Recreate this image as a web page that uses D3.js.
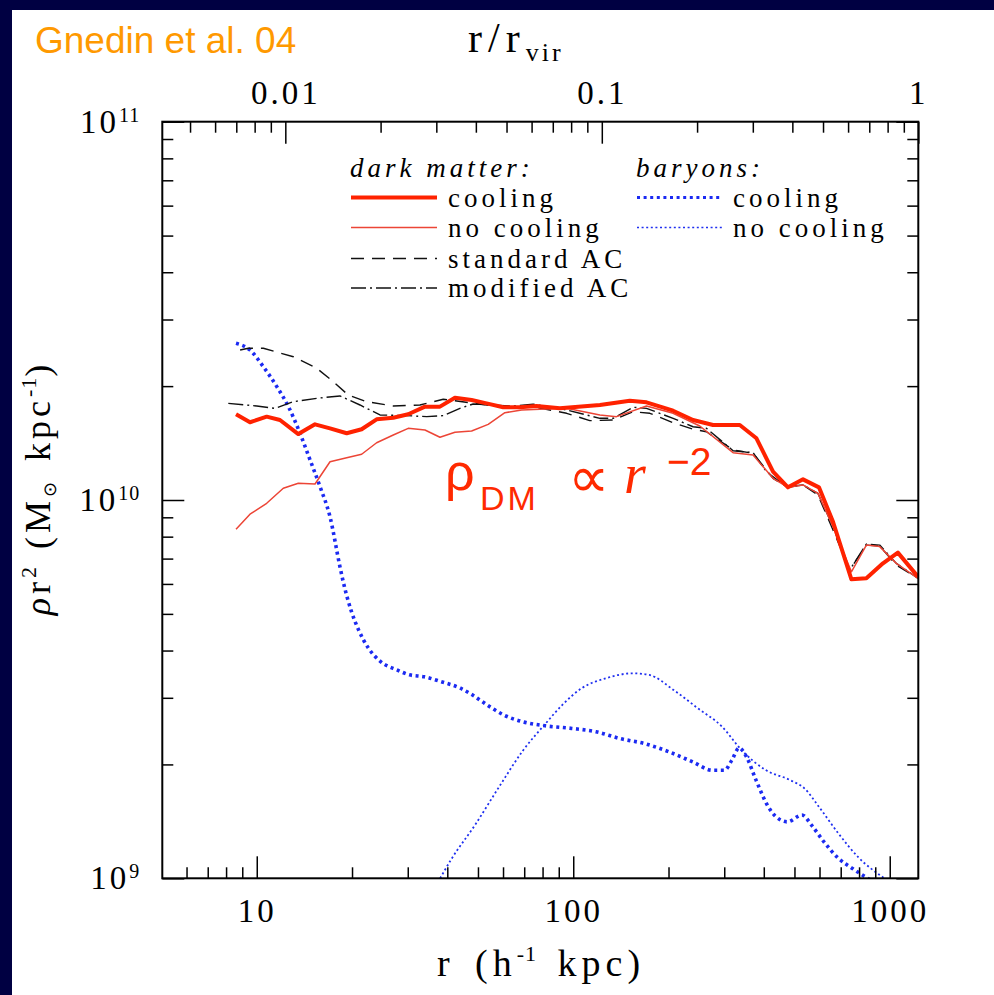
<!DOCTYPE html>
<html>
<head>
<meta charset="utf-8">
<script src="https://cdn.jsdelivr.net/npm/d3@7"></script>
<style>
body { margin: 0; background: #000042; }
svg { display: block; }
</style>
</head>
<body>
<div id="chart"></div>
<script>
// radius r in h^-1 kpc, rho*r^2 in units of 1e10 Msun/kpc
const unit = 1e10;
const rvir = 1231;

const dmCoolR = [8.60, 9.52, 10.75, 11.84, 13.53, 15.28, 17.04, 19.24, 21.45, 23.92, 27.00, 30.10, 34.00, 37.92, 42.29, 47.74, 53.23, 60.07, 67.83, 76.58, 90.7, 121.4, 150.9, 170.4, 206.8, 239.1, 276.6, 335.9, 379.2, 427.8, 477.0, 532.1, 597.6, 661.9, 756.7, 843.7, 952.0, 1061, 1228];
const dmCoolV = [1.685, 1.605, 1.661, 1.627, 1.494, 1.585, 1.547, 1.501, 1.538, 1.634, 1.650, 1.685, 1.765, 1.765, 1.864, 1.838, 1.801, 1.758, 1.758, 1.772, 1.747, 1.783, 1.830, 1.812, 1.722, 1.627, 1.578, 1.578, 1.456, 1.188, 1.080, 1.134, 1.080, 0.876, 0.617, 0.621, 0.680, 0.726, 0.627];

const dmNoCoolR = [8.60, 9.52, 10.75, 12.13, 13.53, 15.28, 17.04, 19.24, 21.45, 23.92, 27.00, 30.10, 34.00, 37.92, 42.29, 47.74, 53.86, 60.81, 68.68, 78.45, 95.3, 121.4, 137.0, 170.4, 206.8, 251.1, 319.9, 370.0, 427.8, 477.0, 532.1, 593.3, 661.9, 756.7, 843.7, 929.4, 1049, 1228];
const dmNoCoolV = [0.837, 0.917, 0.980, 1.074, 1.107, 1.102, 1.262, 1.294, 1.321, 1.417, 1.485, 1.547, 1.531, 1.465, 1.510, 1.522, 1.585, 1.701, 1.730, 1.737, 1.747, 1.678, 1.661, 1.772, 1.695, 1.569, 1.334, 1.315, 1.141, 1.080, 1.096, 1.041, 0.850, 0.646, 0.760, 0.753, 0.680, 0.621];

const stdACR = [8.86, 9.41, 10.49, 13.05, 15.47, 17.46, 19.46, 22.25, 27.00, 32.78, 38.84, 47.15, 60.07, 74.71, 95.3, 112.8, 133.7, 154.6, 174.6, 206.8, 239.1, 263.6, 319.9, 370.0, 427.8, 477.0, 532.1, 593.3, 661.9, 747.4, 843.7, 929.4, 1049, 1228];
const stdACV = [2.492, 2.518, 2.518, 2.392, 2.229, 2.054, 1.894, 1.819, 1.772, 1.783, 1.846, 1.808, 1.758, 1.765, 1.695, 1.621, 1.627, 1.712, 1.695, 1.601, 1.538, 1.515, 1.356, 1.329, 1.141, 1.080, 1.096, 1.031, 0.833, 0.653, 0.760, 0.756, 0.673, 0.621];

const modACR = [8.13, 10.0, 11.42, 13.05, 15.47, 18.32, 21.19, 24.51, 29.76, 34.43, 38.84, 43.85, 48.30, 55.86, 64.59, 74.71, 95.3, 121.4, 133.7, 154.6, 170.4, 206.8, 239.1, 263.6, 319.9, 370.0, 407.8, 471.5, 532.1, 593.3, 661.9, 747.4, 843.7, 929.4, 1049, 1228];
const modACV = [1.801, 1.772, 1.747, 1.819, 1.857, 1.884, 1.783, 1.678, 1.671, 1.661, 1.671, 1.747, 1.794, 1.783, 1.772, 1.791, 1.730, 1.644, 1.644, 1.758, 1.747, 1.644, 1.562, 1.547, 1.350, 1.334, 1.188, 1.084, 1.096, 1.041, 0.850, 0.653, 0.765, 0.760, 0.680, 0.621];

const barCoolR = [8.60, 9.52, 10.49, 11.57, 12.59, 13.70, 14.74, 15.85, 17.04, 18.32, 18.76, 19.92, 20.99, 22.53, 24.62, 27.84, 30.39, 33.80, 38.23, 44.01, 48.10, 52.53, 60.46, 69.59, 81.56, 99.0, 118.1, 140.8, 168.0, 200.4, 238.9, 275.2, 300.6, 316.8, 334.1, 352.1, 377.8, 412.5, 435.1, 475.1, 528.2, 566.8, 618.9, 687.8, 764.8, 835.2, 929.4];
const barCoolV = [2.595, 2.492, 2.251, 1.994, 1.765, 1.501, 1.276, 1.084, 0.903, 0.666, 0.608, 0.507, 0.453, 0.406, 0.374, 0.355, 0.345, 0.341, 0.331, 0.318, 0.305, 0.290, 0.270, 0.259, 0.253, 0.249, 0.244, 0.234, 0.227, 0.216, 0.203, 0.193, 0.193, 0.205, 0.221, 0.210, 0.182, 0.155, 0.146, 0.141, 0.147, 0.138, 0.125, 0.113, 0.106, 0.101, 0.096];

const barNoCoolR = [37.97, 41.02, 48.93, 58.34, 69.59, 81.56, 92.26, 106.2, 126.6, 153.8, 174.0, 207.6, 247.6, 295.3, 340.0, 405.5, 483.7, 537.5, 597.2, 687.8, 792.1, 961.6];
const barNoCoolV = [0.100, 0.1117, 0.1383, 0.1746, 0.2184, 0.2558, 0.2871, 0.3178, 0.3378, 0.3482, 0.3447, 0.3146, 0.2814, 0.2516, 0.2184, 0.1933, 0.1819, 0.1729, 0.1546, 0.1315, 0.1141, 0.100];

const dmLabels = ["cooling", "no cooling", "standard AC", "modified AC"];
const barLabels = ["cooling", "no cooling"];
const xMajor = [10, 100, 1000];
const xTopMajor = [0.01, 0.1, 1];
const yMajor = [1e9, 1e10, 1e11];

// layout
const width = 994, height = 995;
const pLeft = 162.3, pRight = 918.3, pTop = 121.7, pBottom = 878.3;
const serif = "'Liberation Serif', 'Times New Roman', serif";
const sans = "'Liberation Sans', Arial, sans-serif";

const x = d3.scaleLog().domain([5.03, rvir]).range([pLeft, pRight]);
const xTop = d3.scaleLog().domain([5.03 / rvir, 1]).range([pLeft, pRight]);
const y = d3.scaleLog().domain([1e9, 1e11]).range([pBottom, pTop]);

const svg = d3.select("#chart").append("svg")
    .attr("width", width)
    .attr("height", height);

// white page on the navy slide
svg.append("rect")
    .attr("x", 12).attr("y", 10)
    .attr("width", width - 12).attr("height", height - 10)
    .attr("fill", "#fff");

svg.append("defs").append("clipPath").attr("id", "plot")
    .append("rect")
    .attr("x", pLeft).attr("y", pTop)
    .attr("width", pRight - pLeft).attr("height", pBottom - pTop);

const dmStyles = [
    {r: dmCoolR, v: dmCoolV, color: "#ff2200", width: 4, dash: null},
    {r: dmNoCoolR, v: dmNoCoolV, color: "#ec4536", width: 1.5, dash: null},
    {r: stdACR, v: stdACV, color: "#111", width: 1.4, dash: "13,8"},
    {r: modACR, v: modACV, color: "#111", width: 1.4, dash: "15,4,2,4"}
];
const barStyles = [
    {r: barCoolR, v: barCoolV, color: "#1b2af2", width: 3.6, dash: "3,3.6"},
    {r: barNoCoolR, v: barNoCoolV, color: "#1f2ff0", width: 1.8, dash: "2,2.6"}
];

const lineStraight = d3.line()
    .x(d => x(d[0]))
    .y(d => y(d[1] * unit));
const lineSmooth = d3.line()
    .curve(d3.curveMonotoneX)
    .x(d => x(d[0]))
    .y(d => y(d[1] * unit));

const plot = svg.append("g").attr("clip-path", "url(#plot)");

// baryons
barStyles.slice().reverse().forEach(s => {
    plot.append("path")
        .datum(s.r.map((r, i) => [r, s.v[i]]))
        .attr("d", lineSmooth)
        .attr("fill", "none")
        .attr("stroke", s.color)
        .attr("stroke-width", s.width)
        .attr("stroke-dasharray", s.dash);
});
// dark matter
dmStyles.slice().reverse().forEach(s => {
    plot.append("path")
        .datum(s.r.map((r, i) => [r, s.v[i]]))
        .attr("d", lineStraight)
        .attr("fill", "none")
        .attr("stroke", s.color)
        .attr("stroke-width", s.width)
        .attr("stroke-linejoin", "round")
        .attr("stroke-dasharray", s.dash);
});

// axes
const isMajor = d => Math.abs(Math.log10(d) - Math.round(Math.log10(d))) < 1e-6;

function styleAxis(g) {
    g.attr("color", "#000");
    g.select(".domain").remove();
    g.selectAll("line").attr("stroke-width", 1.5);
    g.selectAll("text")
        .attr("font-family", serif)
        .attr("font-size", 33)
        .style("letter-spacing", "3px");
}

function addAxis(axisFn, scale, pos, majors, labelled, padding, fmt) {
    const minors = scale.ticks().filter(d => !isMajor(d));
    svg.append("g").attr("transform", pos)
        .call(axisFn(scale).tickValues(minors).tickSize(-11).tickFormat(""))
        .call(styleAxis);
    return svg.append("g").attr("transform", pos)
        .call(axisFn(scale).tickValues(majors).tickSize(-22).tickPadding(padding)
            .tickFormat(labelled ? fmt : ""))
        .call(styleAxis);
}

addAxis(d3.axisBottom, x, `translate(0,${pBottom})`, xMajor, true, 20, d3.format("d"));
addAxis(d3.axisTop, xTop, `translate(0,${pTop})`, xTopMajor, true, 18, d => String(d));
addAxis(d3.axisRight, y, `translate(${pRight},0)`, yMajor, false, 0, null);
const yAxis = addAxis(d3.axisLeft, y, `translate(${pLeft},0)`, yMajor, true, 22, d => "10");
yAxis.selectAll(".tick text").each(function(d) {
    d3.select(this).append("tspan")
        .attr("dy", -11)
        .attr("font-size", 20)
        .style("letter-spacing", "1px")
        .text(Math.round(Math.log10(d)));
});

// frame
svg.append("rect")
    .attr("x", pLeft).attr("y", pTop)
    .attr("width", pRight - pLeft).attr("height", pBottom - pTop)
    .attr("fill", "none")
    .attr("stroke", "#000")
    .attr("stroke-width", 2);

// titles
svg.append("text")
    .attr("x", 35).attr("y", 53)
    .attr("font-family", sans)
    .attr("font-size", 37)
    .attr("fill", "#ff9900")
    .text("Gnedin et al. 04");

const topTitle = svg.append("text")
    .attr("x", 468).attr("y", 52)
    .attr("font-family", serif)
    .attr("font-size", 42)
    .style("letter-spacing", "6px");
topTitle.append("tspan").text("r/r");
topTitle.append("tspan").attr("dy", 9).attr("font-size", 26).style("letter-spacing", "3px").text("vir");

const xTitle = svg.append("text")
    .attr("x", 541).attr("y", 976)
    .attr("text-anchor", "middle")
    .attr("font-family", serif)
    .attr("font-size", 38)
    .style("letter-spacing", "5px")
    .style("word-spacing", "6px");
xTitle.append("tspan").text("r (h");
xTitle.append("tspan").attr("dy", -15).attr("font-size", 22).style("letter-spacing", "1px").text("-1");
xTitle.append("tspan").attr("dy", 15).text(" kpc)");

const yTitle = svg.append("text")
    .attr("transform", "translate(50,488) rotate(-90)")
    .attr("text-anchor", "middle")
    .attr("font-family", serif)
    .attr("font-size", 36)
    .style("letter-spacing", "4px")
    .style("word-spacing", "4px");
yTitle.append("tspan").attr("font-style", "italic").text("ρ");
yTitle.append("tspan").text("r");
yTitle.append("tspan").attr("dy", -14).attr("font-size", 22).style("letter-spacing", "1px").text("2");
yTitle.append("tspan").attr("dy", 14).text(" (M");
yTitle.append("tspan").attr("dy", 6).attr("font-size", 18).text("⊙");
yTitle.append("tspan").attr("dy", -6).text(" kpc");
yTitle.append("tspan").attr("dy", -14).attr("font-size", 22).style("letter-spacing", "1px").text("-1");
yTitle.append("tspan").attr("dy", 14).text(")");

// legend
const legend = svg.append("g")
    .attr("font-family", serif)
    .attr("font-size", 27)
    .style("letter-spacing", "4px");

legend.append("text").attr("x", 350).attr("y", 177)
    .attr("font-style", "italic").text("dark matter:");
legend.append("text").attr("x", 636).attr("y", 177)
    .attr("font-style", "italic").text("baryons:");

const rowY = [197.5, 227.5, 258.5, 288];
dmLabels.forEach((label, i) => {
    const s = dmStyles[i];
    legend.append("line")
        .attr("x1", 351).attr("x2", 437)
        .attr("y1", rowY[i]).attr("y2", rowY[i])
        .attr("stroke", s.color)
        .attr("stroke-width", s.width)
        .attr("stroke-dasharray", s.dash);
    legend.append("text").attr("x", 448).attr("y", rowY[i] + 9).text(label);
});
barLabels.forEach((label, i) => {
    const s = barStyles[i];
    legend.append("line")
        .attr("x1", 637).attr("x2", 722)
        .attr("y1", rowY[i]).attr("y2", rowY[i])
        .attr("stroke", s.color)
        .attr("stroke-width", s.width * 0.85)
        .attr("stroke-dasharray", s.dash);
    legend.append("text").attr("x", 733).attr("y", rowY[i] + 9).text(label);
});

// rho_DM ~ r^-2 annotation
const note = svg.append("g").attr("fill", "#ff2a00");
note.append("text").attr("x", 445).attr("y", 490)
    .attr("font-family", sans).attr("font-size", 52).text("ρ");
note.append("text").attr("x", 480).attr("y", 510)
    .attr("font-family", sans).attr("font-size", 34)
    .style("letter-spacing", "3px").text("DM");
note.append("text").attr("x", 568).attr("y", 497)
    .attr("font-family", "'DejaVu Sans', sans-serif").attr("font-size", 58).text("∝");
note.append("text").attr("x", 624).attr("y", 493)
    .attr("font-family", serif).attr("font-style", "italic").attr("font-size", 56).text("r");
note.append("text").attr("x", 667).attr("y", 475)
    .attr("font-family", sans).attr("font-size", 39).text("−2");
</script>
</body>
</html>
